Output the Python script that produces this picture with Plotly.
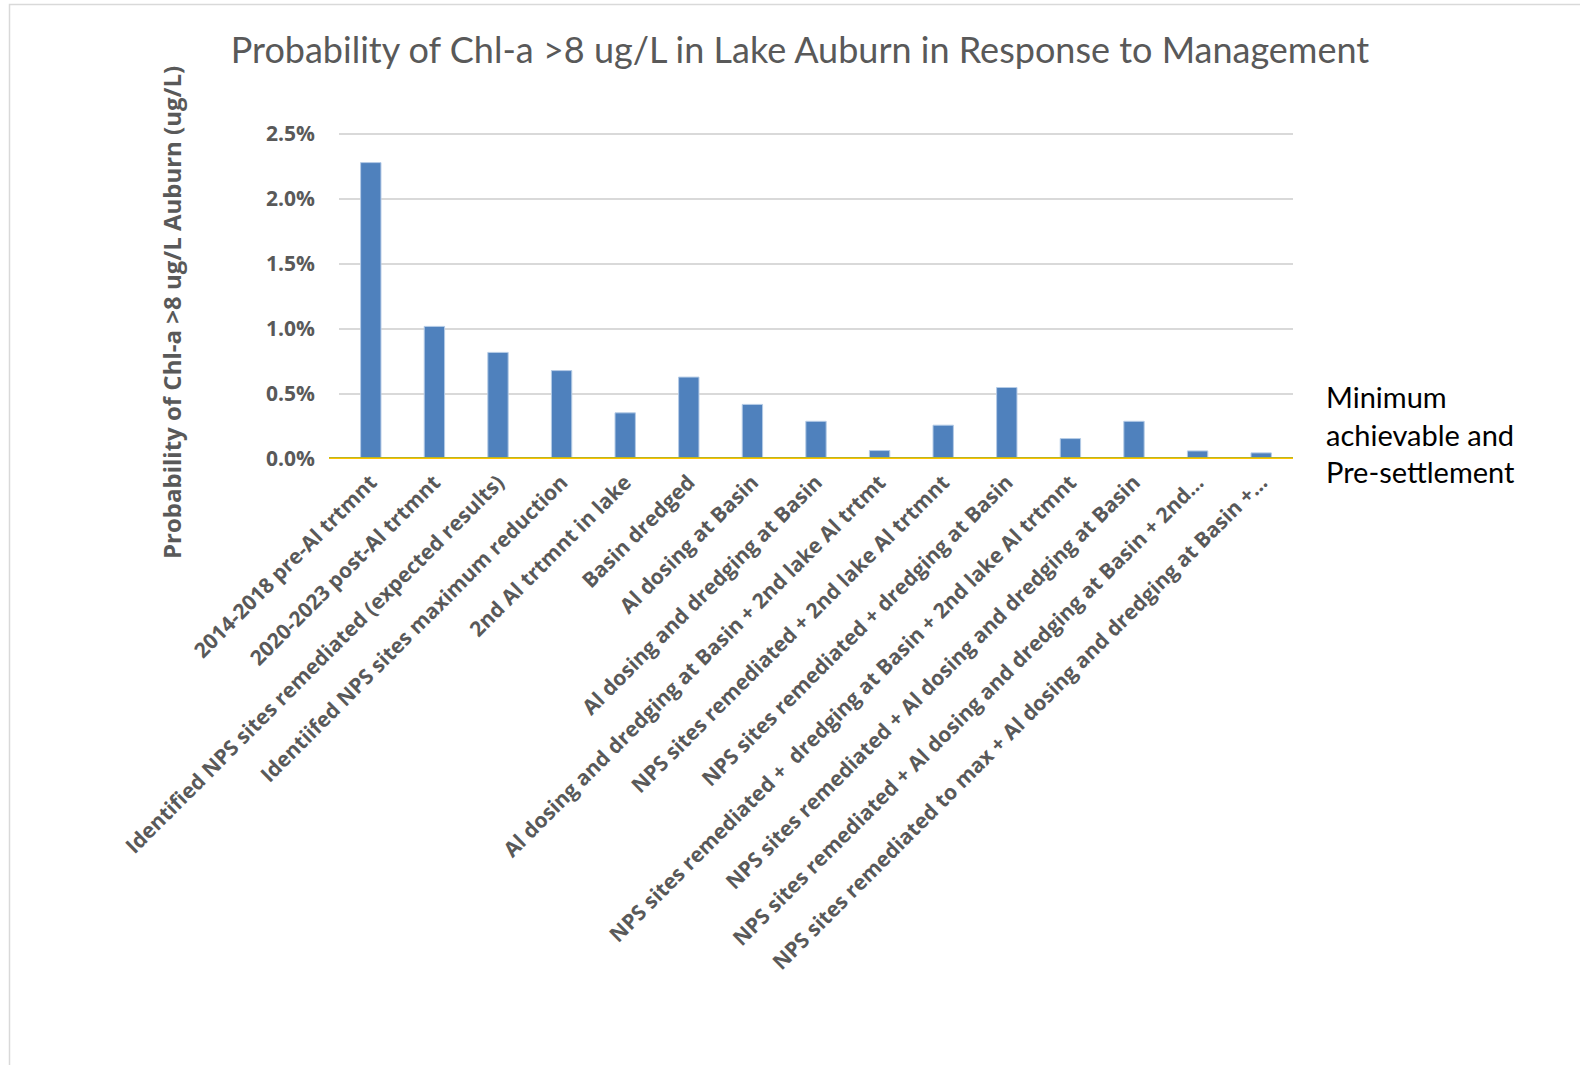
import plotly.graph_objects as go

categories = [
    "2014-2018 pre-Al trtmnt",
    "2020-2023 post-Al trtmnt",
    "Identified NPS sites remediated (expected results)",
    "Identiifed NPS sites maximum reduction",
    "2nd Al trtmnt in lake",
    "Basin dredged",
    "Al dosing at Basin",
    "Al dosing and dredging at Basin",
    "Al dosing and dredging at Basin + 2nd lake Al trtmt",
    "NPS sites remediated + 2nd lake Al trtmnt",
    "NPS sites remediated + dredging at Basin",
    "NPS sites remediated +  dredging at Basin + 2nd lake Al trtmnt",
    "NPS sites remediated + Al dosing and dredging at Basin",
    "NPS sites remediated + Al dosing and dredging at Basin + 2nd…",
    "NPS sites remediated to max + Al dosing and dredging at Basin +…",
]
probability = [0.0228, 0.0102, 0.0082, 0.0068, 0.00355, 0.0063, 0.0042, 0.0029,
               0.00065, 0.0026, 0.0055, 0.00157, 0.0029, 0.00062, 0.00047]
minimum_achievable = 0.0
pre_settlement = 0.0
y_ticks = [0, 0.005, 0.010, 0.015, 0.020, 0.025]
y_ticktext = ["0.0%", "0.5%", "1.0%", "1.5%", "2.0%", "2.5%"]

W, H = 1580, 1065
L, R, T, B = 339, 1293, 130, 459
YMAX = 0.025 * (B - T) / (B - 134)

def px_x(p):
    return (p - L) / (R - L)

def px_y(p):
    return (B - p) / (B - T)

fig = go.Figure()
fig.add_trace(go.Bar(
    x=list(range(len(categories))), y=probability,
    marker=dict(color="#4F81BD", line=dict(color="#B4CBE6", width=1)),
    width=0.32, showlegend=False,
))

# Pre-settlement (green) and minimum achievable (yellow) reference lines
fig.add_shape(type="line", xref="paper", yref="y", x0=px_x(329), x1=1,
              y0=pre_settlement, y1=pre_settlement, line=dict(color="#70AD47", width=4))
fig.add_shape(type="line", xref="paper", yref="y", x0=px_x(329), x1=1,
              y0=minimum_achievable, y1=minimum_achievable, line=dict(color="#FFC000", width=3))

# outer chart border
fig.add_shape(type="rect", xref="paper", yref="paper",
              x0=px_x(9.5), x1=px_x(1620), y0=px_y(1100), y1=px_y(4.5),
              line=dict(color="#D9D9D9", width=1.5), layer="below")

fig.add_annotation(
    xref="paper", yref="paper", x=px_x(1324), y=px_y(377),
    xanchor="left", yanchor="top", align="left", showarrow=False,
    text="Minimum<br>achievable and<br>Pre-settlement",
    font=dict(family="Lato", size=29, color="#000000"),
)

# y-axis title
fig.add_annotation(
    xref="paper", yref="paper", x=px_x(171), y=px_y(313),
    xanchor="center", yanchor="middle", textangle=-90, showarrow=False,
    text="<b>Probability of Chl-a >8 ug/L Auburn (ug/L)</b>",
    font=dict(family="Open Sans", size=24, color="#595959"),
)

fig.update_layout(
    width=W, height=H,
    margin=dict(l=L, r=W - R, t=T, b=H - B, autoexpand=False),
    paper_bgcolor="white", plot_bgcolor="white",
    title=dict(
        text="Probability of Chl-a >8 ug/L in Lake Auburn in Response to Management",
        x=800 / W, xanchor="center", y=1 - 50 / H, yanchor="middle",
        font=dict(family="Lato", size=36, color="#595959"),
    ),
    font=dict(family="Open Sans"),
)
fig.update_xaxes(
    tickmode="array", tickvals=list(range(len(categories))),
    ticktext=[f"<b>{c}</b>" for c in categories],
    range=[-0.5, len(categories) - 0.5], tickangle=-45,
    tickfont=dict(family="Open Sans", size=21, color="#595959"),
    showgrid=False, zeroline=False, showline=False, ticks="", automargin=False,
    ticklabelstandoff=6,
)
fig.update_yaxes(
    range=[0, YMAX], tickmode="array", tickvals=y_ticks,
    ticktext=[f"<b>{t}</b>" for t in y_ticktext],
    tickfont=dict(family="Open Sans", size=21, color="#595959"),
    showgrid=True, gridcolor="#D9D9D9", gridwidth=1.5, zeroline=False, showline=False,
    ticks="", automargin=False, ticklabelstandoff=23,
)
fig.write_html("out.html")
